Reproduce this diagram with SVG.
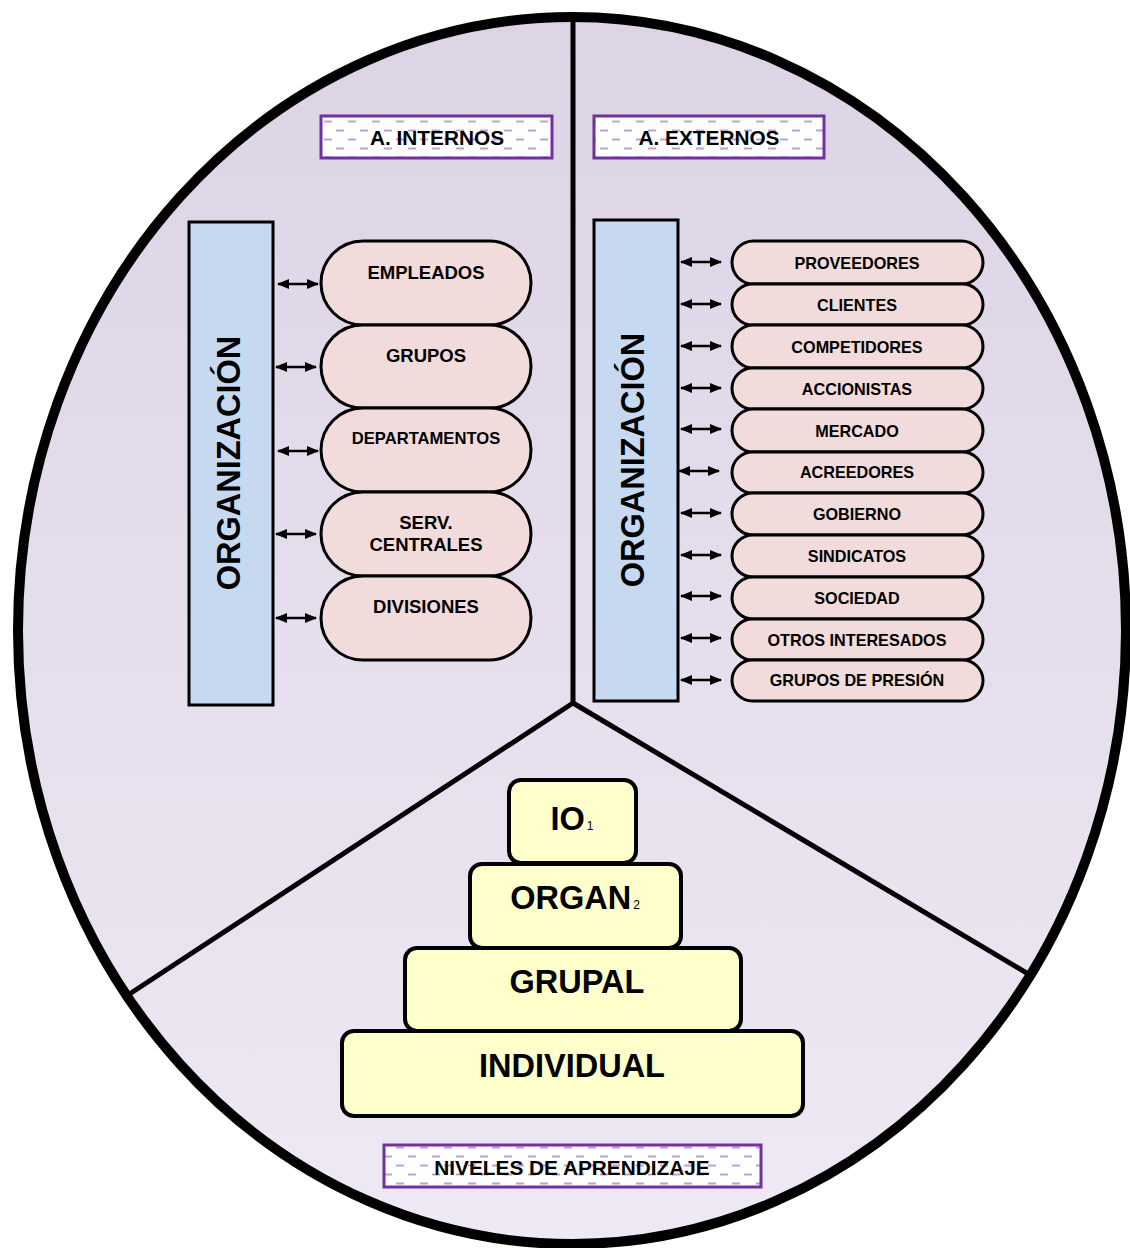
<svg xmlns="http://www.w3.org/2000/svg" width="1130" height="1248" viewBox="0 0 1130 1248">
  <defs>
    <linearGradient id="bg" x1="0" y1="0" x2="0" y2="1">
      <stop offset="0" stop-color="#dcd3e5"/>
      <stop offset="1" stop-color="#eee9f4"/>
    </linearGradient>
    <pattern id="dash" x="0" y="0" width="24" height="18" patternUnits="userSpaceOnUse">
      <rect width="24" height="18" fill="#ffffff"/>
      <path d="M0 4.5h8M12 13.5h8" stroke="#b8a3d2" stroke-width="2"/>
    </pattern>
    <marker id="ah" viewBox="0 0 12 10" refX="11" refY="5" markerWidth="12" markerHeight="10" markerUnits="userSpaceOnUse" orient="auto-start-reverse">
      <path d="M0 0L12 5L0 10z" fill="#000"/>
    </marker>
  </defs>
  <style>
    text { font-family: "Liberation Sans", Arial, sans-serif; font-weight: bold; fill: #000; text-anchor: middle; }
    .title { fill: url(#dash); stroke: #7030a0; stroke-width: 3; }
    .title-t { font-size: 20.8px; }
    .org { fill: #c6d9f1; stroke: #000; stroke-width: 3; }
    .org-t { font-size: 32.5px; }
    .pill { fill: #f2dcdb; stroke: #000; stroke-width: 3; }
    .pill-t { font-size: 18.5px; }
    .dep-t { font-size: 16.6px; }
    .ext-t { font-size: 16.2px; }
    .lvl { fill: #ffffcc; stroke: #000; stroke-width: 4; }
    .lvl-t { font-size: 32.5px; }
    .sub { font-size: 12px; font-weight: normal; }
    .conn line { stroke: #000; stroke-width: 2.5; marker-start: url(#ah); marker-end: url(#ah); }
    .div { stroke: #000; stroke-width: 5; fill: none; }
  </style>

  <!-- outer ellipse -->
  <ellipse cx="572" cy="630.5" rx="554" ry="613.5" fill="url(#bg)" stroke="#000" stroke-width="10"/>
  <!-- sector dividers -->
  <g id="dividers">
    <line class="div" x1="573" y1="20" x2="573" y2="703"/>
    <line class="div" x1="573" y1="703" x2="128" y2="995"/>
    <line class="div" x1="573" y1="703" x2="1030" y2="975"/>
  </g>

  <!-- section titles -->
  <g id="title-internos">
    <rect class="title" x="321" y="116" width="231" height="42"/>
    <text class="title-t" x="437" y="145">A. INTERNOS</text>
  </g>
  <g id="title-externos">
    <rect class="title" x="594" y="116" width="230" height="42"/>
    <text class="title-t" x="709" y="145">A. EXTERNOS</text>
  </g>
  <g id="title-niveles">
    <rect class="title" x="384" y="1145" width="377" height="42"/>
    <text class="title-t" x="572" y="1175">NIVELES DE APRENDIZAJE</text>
  </g>

  <!-- organisation bars -->
  <g id="org-internal">
    <rect class="org" x="189" y="222" width="84" height="483"/>
    <text class="org-t" transform="translate(239.5 463) rotate(-90)">ORGANIZACIÓN</text>
  </g>
  <g id="org-external">
    <rect class="org" x="594" y="220" width="84" height="481"/>
    <text class="org-t" transform="translate(643.5 460) rotate(-90)">ORGANIZACIÓN</text>
  </g>

  <!-- internal agents -->
  <g id="empleados">
    <rect class="pill" x="321" y="241" width="210" height="84" rx="42" stroke="#3f3151"/>
    <text class="pill-t" x="426" y="279">EMPLEADOS</text>
  </g>
  <g id="grupos">
    <rect class="pill" x="321" y="325" width="210" height="83" rx="41.5"/>
    <text class="pill-t" x="426" y="362">GRUPOS</text>
  </g>
  <g id="departamentos">
    <rect class="pill" x="321" y="408" width="210" height="84" rx="42"/>
    <text class="dep-t" x="426" y="444">DEPARTAMENTOS</text>
  </g>
  <g id="serv-centrales">
    <rect class="pill" x="321" y="492" width="210" height="84" rx="42"/>
    <text class="pill-t" x="426" y="529">SERV.</text>
    <text class="pill-t" x="426" y="551">CENTRALES</text>
  </g>
  <g id="divisiones">
    <rect class="pill" x="321" y="576" width="210" height="84" rx="42"/>
    <text class="pill-t" x="426" y="613">DIVISIONES</text>
  </g>

  <!-- external agents -->
  <g id="proveedores"><rect class="pill" x="732" y="241" width="251" height="43" rx="21.5"/><text class="ext-t" x="857" y="269">PROVEEDORES</text></g>
  <g id="clientes"><rect class="pill" x="732" y="284" width="251" height="41" rx="20.5"/><text class="ext-t" x="857" y="311">CLIENTES</text></g>
  <g id="competidores"><rect class="pill" x="732" y="325" width="251" height="43" rx="21.5"/><text class="ext-t" x="857" y="353">COMPETIDORES</text></g>
  <g id="accionistas"><rect class="pill" x="732" y="368" width="251" height="41" rx="20.5"/><text class="ext-t" x="857" y="395">ACCIONISTAS</text></g>
  <g id="mercado"><rect class="pill" x="732" y="409" width="251" height="43" rx="21.5"/><text class="ext-t" x="857" y="437">MERCADO</text></g>
  <g id="acreedores"><rect class="pill" x="732" y="452" width="251" height="41" rx="20.5"/><text class="ext-t" x="857" y="478">ACREEDORES</text></g>
  <g id="gobierno"><rect class="pill" x="732" y="493" width="251" height="42" rx="21"/><text class="ext-t" x="857" y="520">GOBIERNO</text></g>
  <g id="sindicatos"><rect class="pill" x="732" y="535" width="251" height="42" rx="21"/><text class="ext-t" x="857" y="562">SINDICATOS</text></g>
  <g id="sociedad"><rect class="pill" x="732" y="577" width="251" height="42" rx="21"/><text class="ext-t" x="857" y="604">SOCIEDAD</text></g>
  <g id="otros-interesados"><rect class="pill" x="732" y="619" width="251" height="41" rx="20.5"/><text class="ext-t" x="857" y="646">OTROS INTERESADOS</text></g>
  <g id="grupos-presion"><rect class="pill" x="732" y="660" width="251" height="41" rx="20.5"/><text class="ext-t" x="857" y="686">GRUPOS DE PRESIÓN</text></g>

  <!-- two-way links between organisation and agents -->
  <g id="connectors" class="conn">
    <line x1="278" y1="284" x2="318" y2="284"/>
    <line x1="276" y1="367" x2="316" y2="367"/>
    <line x1="278" y1="451" x2="318" y2="451"/>
    <line x1="276" y1="534" x2="316" y2="534"/>
    <line x1="276" y1="618" x2="316" y2="618"/>
    <line x1="681" y1="262" x2="721" y2="262"/>
    <line x1="681" y1="304" x2="721" y2="304"/>
    <line x1="681" y1="346" x2="721" y2="346"/>
    <line x1="681" y1="388" x2="721" y2="388"/>
    <line x1="681" y1="429" x2="721" y2="429"/>
    <line x1="679" y1="471" x2="719" y2="471"/>
    <line x1="681" y1="513" x2="721" y2="513"/>
    <line x1="681" y1="555" x2="721" y2="555"/>
    <line x1="681" y1="596" x2="721" y2="596"/>
    <line x1="681" y1="638" x2="721" y2="638"/>
    <line x1="681" y1="680" x2="721" y2="680"/>
  </g>

  <!-- learning levels pyramid -->
  <g id="nivel-io">
    <rect class="lvl" x="509" y="780" width="127" height="83" rx="12"/>
    <text class="lvl-t" x="572" y="830">IO<tspan class="sub" dx="2">1</tspan></text>
  </g>
  <g id="nivel-organ">
    <rect class="lvl" x="470" y="864" width="211" height="84" rx="12"/>
    <text class="lvl-t" x="575" y="909">ORGAN<tspan class="sub" dx="2">2</tspan></text>
  </g>
  <g id="nivel-grupal">
    <rect class="lvl" x="405" y="948" width="336" height="83" rx="12"/>
    <text class="lvl-t" x="577" y="993">GRUPAL</text>
  </g>
  <g id="nivel-individual">
    <rect class="lvl" x="342" y="1031" width="461" height="85" rx="12"/>
    <text class="lvl-t" x="572" y="1077">INDIVIDUAL</text>
  </g>
</svg>
